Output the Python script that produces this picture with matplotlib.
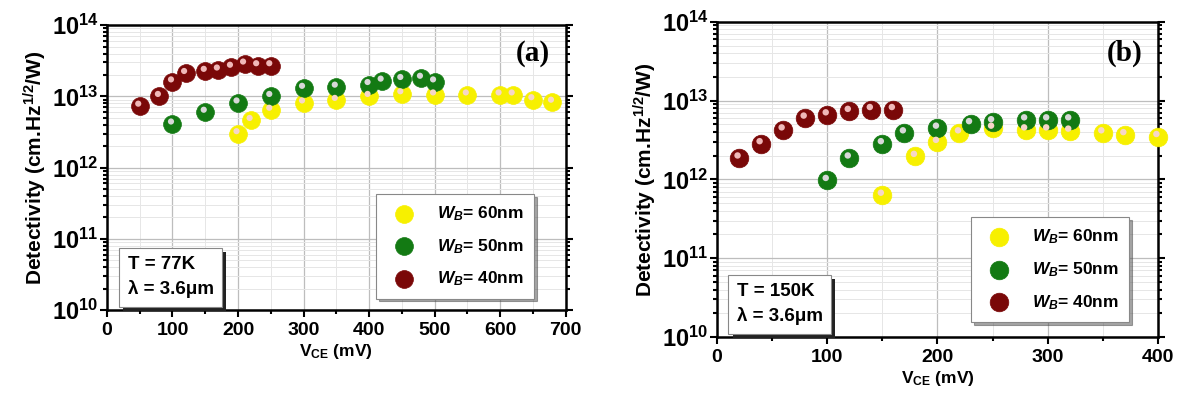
import matplotlib
matplotlib.use("Agg")
import matplotlib.pyplot as plt
import matplotlib.patheffects as pe
from matplotlib.ticker import MultipleLocator, LogLocator, NullFormatter
from matplotlib.transforms import offset_copy

plt.rcParams['font.family'] = ['Liberation Sans', 'DejaVu Sans']
plt.rcParams['font.weight'] = 'bold'
plt.rcParams['axes.labelweight'] = 'bold'
plt.rcParams['mathtext.fontset'] = 'custom'
plt.rcParams['mathtext.rm'] = 'Liberation Sans:bold'
plt.rcParams['mathtext.it'] = 'Liberation Sans:italic:bold'
plt.rcParams['mathtext.bf'] = 'Liberation Sans:bold'

# panel (a): T = 77K
a_v60 = [200, 220, 250, 300, 350, 400, 450, 500, 550, 600, 620, 650, 680]
a_d60 = [3.0e12, 4.6e12, 6.4e12, 8.1e12, 8.8e12, 1.0e13, 1.09e13, 1.05e13,
         1.05e13, 1.05e13, 1.05e13, 9.0e12, 8.3e12]
a_v50 = [100, 150, 200, 250, 300, 350, 400, 420, 450, 480, 500]
a_d50 = [4.1e12, 6.0e12, 8.1e12, 1.0e13, 1.3e13, 1.35e13, 1.47e13, 1.64e13,
         1.73e13, 1.8e13, 1.6e13]
a_v40 = [50, 80, 100, 120, 150, 170, 190, 210, 230, 250]
a_d40 = [7.3e12, 1.0e13, 1.6e13, 2.1e13, 2.25e13, 2.35e13, 2.57e13, 2.85e13,
         2.7e13, 2.7e13]

# panel (b): T = 150K
b_v60 = [150, 180, 200, 220, 250, 280, 300, 320, 350, 370, 400]
b_d60 = [6.3e11, 1.96e12, 2.95e12, 3.9e12, 4.47e12, 4.25e12, 4.25e12, 4.1e12,
         3.9e12, 3.7e12, 3.5e12]
b_v50 = [100, 120, 150, 170, 200, 230, 250, 280, 300, 320]
b_d50 = [9.7e11, 1.87e12, 2.84e12, 3.9e12, 4.47e12, 5.1e12, 5.4e12, 5.7e12,
         5.7e12, 5.7e12]
b_v40 = [20, 40, 60, 80, 100, 120, 140, 160]
b_d40 = [1.87e12, 2.84e12, 4.25e12, 6.0e12, 6.6e12, 7.3e12, 7.7e12, 7.7e12]

labels = [r"$W_B$= 60nm", r"$W_B$= 50nm", r"$W_B$= 40nm"]
colors = ["#f7f000", "#137a13", "#7a0808"]
shines = ["#f6d6c8", "#d8d8d8", "#f0b8b8"]

fig = plt.figure(figsize=(11.82, 3.94), dpi=100)
ax_a = fig.add_axes([0.0905, 0.213, 0.388, 0.723])
ax_b = fig.add_axes([0.6066, 0.1447, 0.373, 0.80])


def balls(ax, x, y, c, sh, lab, size):
    ax.scatter(x, y, s=size, c=c, edgecolors=c, linewidths=0.5, label=lab,
               zorder=3, clip_on=False)
    tr = offset_copy(ax.transData, fig=fig, x=-1.5, y=2.5, units='dots')
    ax.scatter(x, y, s=size * 0.12, c=sh, edgecolors='none', transform=tr,
               zorder=4, clip_on=False)


def setup(ax, xmax, tag, temp, lpos, tpos, size):
    series = {
        'a': [(a_v60, a_d60), (a_v50, a_d50), (a_v40, a_d40)],
        'b': [(b_v60, b_d60), (b_v50, b_d50), (b_v40, b_d40)],
    }[tag]
    for (x, y), c, sh, lab in zip(series, colors, shines, labels):
        balls(ax, x, y, c, sh, lab, size)
    ax.set_yscale('log')
    ax.set_ylim(1e10, 1e14)
    ax.set_xlim(0, xmax)
    ax.xaxis.set_major_locator(MultipleLocator(100))
    ax.xaxis.set_minor_locator(MultipleLocator(50))
    ax.yaxis.set_major_locator(LogLocator(base=10, numticks=10))
    ax.yaxis.set_minor_locator(LogLocator(base=10, subs=range(2, 10), numticks=20))
    ax.yaxis.set_minor_formatter(NullFormatter())
    ax.grid(which='major', color='#bdbdbd', lw=0.9)
    ax.grid(which='minor', color='#e6e6e6', lw=0.7)
    ax.set_axisbelow(True)
    for sp in ax.spines.values():
        sp.set_linewidth(1.8)
    ax.tick_params(which='both', right=True, direction='out', width=1.5)
    ax.tick_params(which='major', length=5)
    ax.tick_params(which='minor', length=3)
    ax.tick_params(axis='y', labelsize=17, pad=1)
    ax.tick_params(axis='x', labelsize=14)
    for t in ax.get_xticklabels():
        t.set_fontweight('bold')
    ax.set_xlabel(r"V$_{\mathrm{CE}}$ (mV)", fontsize=12.5, labelpad=2)
    ax.set_ylabel(r"Detectivity (cm.Hz$^{1/2}$/W)", fontsize=15, labelpad=2)
    ax.text(0.965, 0.90, "(%s)" % tag, transform=ax.transAxes, ha='right',
            va='center', fontsize=21, fontweight='bold', family='Liberation Serif')
    leg = ax.legend(loc='lower right', bbox_to_anchor=lpos, fontsize=12.5,
                    labelspacing=0.8, borderpad=0.6, handletextpad=0.9,
                    fancybox=False, shadow=True, edgecolor='#888888',
                    framealpha=1, markerscale=1.0)
    leg.get_frame().set_linewidth(0.8)
    txt = "T = %s\n\u03bb = 3.6\u03bcm" % temp
    t = ax.text(tpos[0], tpos[1], txt, transform=ax.transAxes, fontsize=13.5,
                linespacing=1.5, zorder=6,
                bbox=dict(boxstyle='square,pad=0.45', fc='white', ec='#888888', lw=0.8))
    t.get_bbox_patch().set_path_effects(
        [pe.SimplePatchShadow(offset=(3, -3), shadow_rgbFace='#222222', alpha=1.0),
         pe.Normal()])


setup(ax_a, 700, 'a', '77K', (0.95, 0.01), (0.045, 0.055), 165)
setup(ax_b, 400, 'b', '150K', (0.955, 0.02), (0.045, 0.05), 180)

fig.savefig("out.png", dpi=100)
